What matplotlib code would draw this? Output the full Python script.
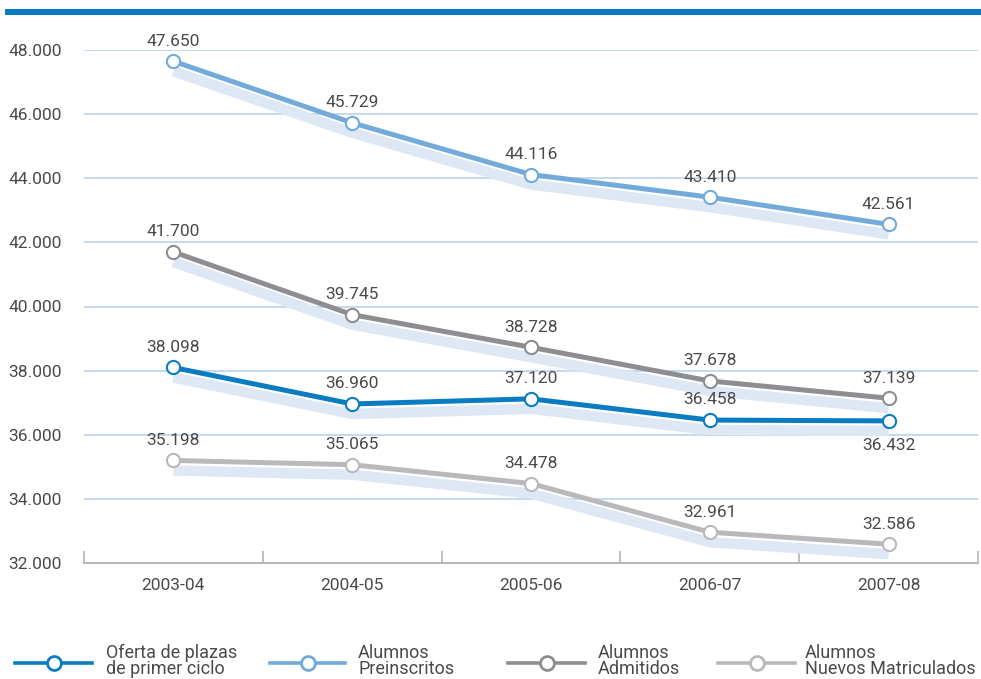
import matplotlib.pyplot as plt
import matplotlib.transforms as mtransforms
from matplotlib.lines import Line2D
from matplotlib.patches import Rectangle

cursos = ['2003-04', '2004-05', '2005-06', '2006-07', '2007-08']
oferta = [38098, 36960, 37120, 36458, 36432]
preinscritos = [47650, 45729, 44116, 43410, 42561]
admitidos = [41700, 39745, 38728, 37678, 37139]
matriculados = [35198, 35065, 34478, 32961, 32586]

series = [
    ('Oferta de plazas\nde primer ciclo', oferta, '#0a7dc2'),
    ('Alumnos\nPreinscritos', preinscritos, '#72abd9'),
    ('Alumnos\nAdmitidos', admitidos, '#8e8e92'),
    ('Alumnos\nNuevos Matriculados', matriculados, '#b9b9bc'),
]

def fmt(v):
    return f'{v:,}'.replace(',', '.')

plt.rcParams['font.family'] = ['Roboto', 'DejaVu Sans']
txt_color = '#4a4a4a'
fs = 12.5

fig = plt.figure(figsize=(9.81, 6.79), dpi=100)
ax = fig.add_axes([84 / 981, 1 - 563 / 679, (978 - 84) / 981, (563 - 50) / 679])

x = list(range(len(cursos)))

# sombra
sombra = mtransforms.offset_copy(ax.transData, fig=fig, x=0, y=-7.2, units='points')
for nombre, vals, color in series:
    ax.plot(x, vals, color='#dde8f4', lw=7.5, solid_capstyle='butt',
            solid_joinstyle='miter', transform=sombra, zorder=2)

for nombre, vals, color in series:
    ax.plot(x, vals, color=color, lw=3.6, marker='o', ms=9.5, mfc='white',
            mec=color, mew=1.5, zorder=4)
    for i, v in enumerate(vals):
        if vals is oferta and i == len(vals) - 1:
            dy = -18
        else:
            dy = 14.5
        ax.annotate(fmt(v), (i, v), xytext=(0, dy), textcoords='offset points',
                    ha='center', va='center', fontsize=fs, color=txt_color)

ax.set_xlim(-0.5, 4.5)
ax.set_ylim(32000, 48000)
ax.set_yticks(range(32000, 48001, 2000))
ax.set_yticklabels([fmt(v) for v in range(32000, 48001, 2000)])
for v in range(34000, 48001, 2000):
    ax.axhline(v, color='#c4d9ee', lw=1.4, zorder=1)

ax.set_xticks(x)
ax.set_xticklabels(cursos)
ax.set_xticks([i - 0.5 for i in range(len(cursos) + 1)], minor=True)
ax.tick_params(axis='x', which='major', length=0, pad=11, labelsize=fs, labelcolor=txt_color)
ax.tick_params(axis='x', which='minor', direction='in', length=9, width=1.2, color='#b4b4bc')
ax.tick_params(axis='y', length=0, pad=16, labelsize=fs, labelcolor=txt_color)

for s in ['top', 'right', 'left']:
    ax.spines[s].set_visible(False)
ax.spines['bottom'].set_color('#b4b4bc')
ax.spines['bottom'].set_linewidth(1.4)

# barra superior
fig.add_artist(Rectangle((5 / 981, 1 - 15 / 679), 976 / 981, 6 / 679,
                         transform=fig.transFigure, color='#0a7dc2', lw=0))

# leyenda
ley_x = [(15, 92, 106), (270, 345, 358), (508, 585, 598), (718, 795, 805)]
ly = 1 - 663 / 679
for (x0, x1, xt), (nombre, vals, color) in zip(ley_x, series):
    fig.add_artist(Line2D([x0 / 981, x1 / 981], [ly, ly], transform=fig.transFigure,
                          color=color, lw=2.6))
    fig.add_artist(Line2D([(x0 + x1) / 2 / 981], [ly], transform=fig.transFigure,
                          marker='o', ms=10, mfc='white', mec=color, mew=2, ls='none'))
    fig.text(xt / 981, 1 - 661 / 679, nombre, ha='left', va='center', fontsize=13,
             color=txt_color, linespacing=0.9)

fig.savefig('out.png', dpi=100)
